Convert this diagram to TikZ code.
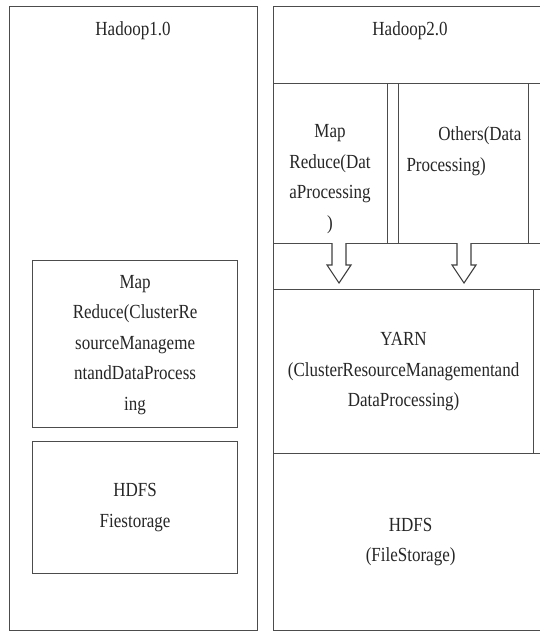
\documentclass[tikz,border=0pt]{standalone}
\usepackage{fontspec}
\setmainfont{Liberation Serif}[FakeStretch=0.85]
\begin{document}
\begin{tikzpicture}[x=1pt, y=-1pt, line width=1.2pt,
  frame/.style={draw=black!70, rectangle, inner sep=0pt, anchor=north west},
  lbl/.style={font=\fontsize{20}{30.5}\selectfont, align=center, inner sep=0pt, text=black!85},
  hollow/.style={draw=black!75, fill=white, line width=1.1pt, line join=miter},
  downarrow/.pic={\draw[hollow] (-7,0) -- (-7,22) -- (-12,22) -- (0,40) -- (12,22) -- (7,22) -- (7,0);}]
\useasboundingbox (0,0) rectangle (540,632);
\begin{scope}
\clip (0,0) rectangle (540,632);

% Hadoop 1.0 stack
\node[frame, minimum width=248, minimum height=624] (h1) at (9,6) {};
\node[lbl, anchor=base] (h1title) at (133,35) {Hadoop1.0};
\node[frame, minimum width=205, minimum height=167] (mr1) at (32,260) {};
\node[lbl] (mr1text) at ([yshift=-1]mr1.center) {Map\\Reduce(ClusterRe\\sourceManageme\\ntandDataProcess\\ing};
\node[frame, minimum width=205, minimum height=132] (hdfs1) at (32,441) {};
\node[lbl] (hdfs1text) at (hdfs1.center) {HDFS\\Fiestorage};

% Hadoop 2.0 stack
\node[frame, minimum width=274, minimum height=624] (h2) at (273,6) {};
\node[frame, minimum width=274, minimum height=77] (h2head) at (273,6) {};
\node[lbl, anchor=base] (h2title) at (410,35) {Hadoop2.0};

% processing frameworks
\node[frame, minimum width=114, minimum height=160] (mr2) at (273,83) {};
\node[lbl] (mr2text) at (330,179) {Map\\Reduce(Dat\\aProcessing\\)};
\node[frame, minimum width=130, minimum height=160] (oth) at (398,83) {};
\node[lbl, text width=115, align=left] (othtext) at (464,151) {\hfill Others(Data\\Processing)};
\node[frame, minimum width=19, minimum height=160] (col3) at (528,83) {};

% arrow band
\node[frame, minimum width=274, minimum height=46] (band) at (273,243) {};
\coordinate (a1) at (339,243);
\coordinate (a2) at (464,243);
\pic (arr1) at (a1) {downarrow};
\pic (arr2) at (a2) {downarrow};

% YARN
\node[frame, minimum width=260, minimum height=164] (yarn) at (273,289) {};
\node[lbl] (yarntext) at (yarn.center) {YARN\\(ClusterResourceManagementand\\DataProcessing)};
\node[frame, minimum width=14, minimum height=164] (yarnside) at (533,289) {};

% HDFS
\node[frame, minimum width=274, minimum height=177] (hdfs2) at (273,453) {};
\node[lbl] (hdfs2text) at ([yshift=0]hdfs2.center) {HDFS\\(FileStorage)};
\end{scope}
\end{tikzpicture}
\end{document}
